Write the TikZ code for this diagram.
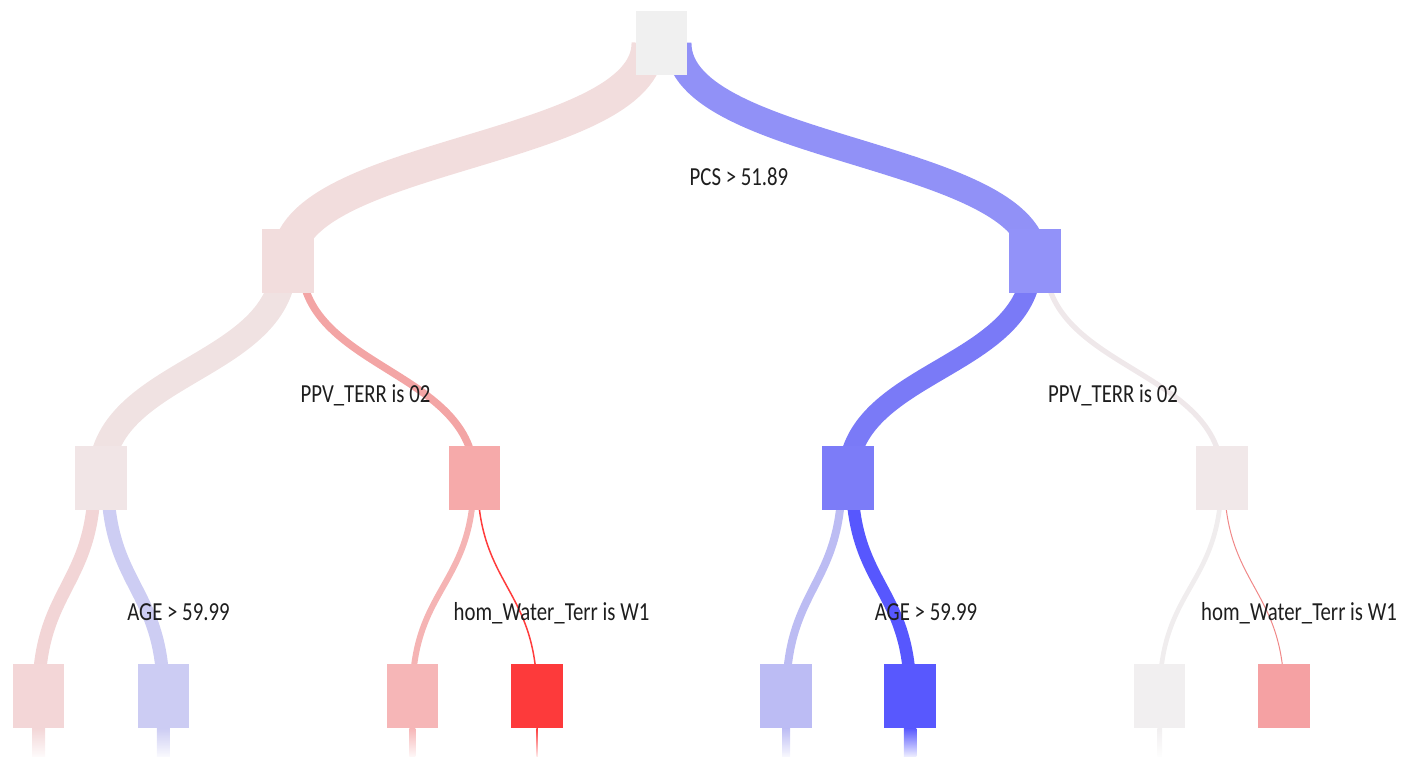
\documentclass[tikz,border=0pt]{standalone}
\usepackage{fontspec}
\newfontfamily\lblfont{Carlito}[FakeStretch=0.80]
\usetikzlibrary{calc,backgrounds}

% node fills
\definecolor{cRoot}{HTML}{F0F0F0}
\definecolor{cLa}{HTML}{F2DDDD}
\definecolor{cLb}{HTML}{9292F9}
\definecolor{cMa}{HTML}{F1E5E6}
\definecolor{cMb}{HTML}{F6AAAA}
\definecolor{cMc}{HTML}{7C7CF8}
\definecolor{cMd}{HTML}{F1E8E9}
\definecolor{cF1}{HTML}{F3D6D7}
\definecolor{cF2}{HTML}{CCCCF3}
\definecolor{cF3}{HTML}{F6B6B7}
\definecolor{cF4}{HTML}{FD3A3B}
\definecolor{cF5}{HTML}{BCBCF4}
\definecolor{cF6}{HTML}{5858FE}
\definecolor{cF7}{HTML}{F1EFF0}
\definecolor{cF8}{HTML}{F5A1A3}
% link strokes
\definecolor{kLa}{HTML}{F2DDDD}
\definecolor{kLb}{HTML}{9191F7}
\definecolor{kMa}{HTML}{F0E2E2}
\definecolor{kMb}{HTML}{F3A5A5}
\definecolor{kMc}{HTML}{7A7AF7}
\definecolor{kMd}{HTML}{EFE8EA}
\definecolor{kF1}{HTML}{F2D5D6}
\definecolor{kF2}{HTML}{CDCDF3}
\definecolor{kF3}{HTML}{F5B4B4}
\definecolor{kF4}{HTML}{FF3C3C}
\definecolor{kF5}{HTML}{BCBCF3}
\definecolor{kF6}{HTML}{5757FE}
\definecolor{kF7}{HTML}{F0EDEE}
\definecolor{kF8}{HTML}{F08888}
\definecolor{txt}{HTML}{1E1E1E}

% sigmoid link from a parent (offset dx) to the centre of a child
\newcommand{\treelink}[5]{%
  \draw[line width=#4pt, draw=#5]
    ($(#1.center)+(#2,0)$) .. controls ($(#1.center)+(#2,109)$)
    and ($(#3.center)+(0,-109)$) .. (#3.center);}
% fading stub below a leaf
\newcommand{\leafstub}[3]{%
  \shade[top color=#3, bottom color=#3!8!white]
    ($(#1.south)+(-#2/2,0)$) rectangle ($(#1.south)+(#2/2,29)$);}

\begin{document}
\begin{tikzpicture}[x=1pt, y=-1pt,
  box/.style={minimum width=51.5pt, minimum height=64.5pt, inner sep=0pt, draw=none, fill=#1},
  lbl/.style={font=\lblfont\fontsize{26}{30}\selectfont, text=txt, anchor=base, inner sep=0pt}]
\useasboundingbox (0,0) rectangle (1403,757);

% tree nodes
\node[box=cRoot] (root) at (661.5,43.2) {};
\node[box=cLa] (la) at (288,261) {};
\node[box=cLb] (lb) at (1035,261) {};
\node[box=cMa] (ma) at (101,478) {};
\node[box=cMb] (mb) at (474.5,478) {};
\node[box=cMc] (mc) at (848,478) {};
\node[box=cMd] (md) at (1222,478) {};
\node[box=cF1] (f1) at (38.7,695.8) {};
\node[box=cF2] (f2) at (163.3,695.8) {};
\node[box=cF3] (f3) at (412.3,695.8) {};
\node[box=cF4] (f4) at (537,695.8) {};
\node[box=cF5] (f5) at (786.2,695.8) {};
\node[box=cF6] (f6) at (910.2,695.8) {};
\node[box=cF7] (f7) at (1159.7,695.8) {};
\node[box=cF8] (f8) at (1284.2,695.8) {};

% links, widths proportional to samples
\begin{scope}[on background layer]
\treelink{root}{-13.2}{la}{33.5}{kLa}
\treelink{root}{16.75}{lb}{26.4}{kLb}
\treelink{la}{-3.75}{ma}{26}{kMa}
\treelink{la}{13}{mb}{7.5}{kMb}
\treelink{lb}{-2.95}{mc}{20.5}{kMc}
\treelink{lb}{10.25}{md}{5.2}{kMd}
\treelink{ma}{-6.5}{f1}{13}{kF1}
\treelink{ma}{6.5}{f2}{13}{kF2}
\treelink{mb}{-0.75}{f3}{6}{kF3}
\treelink{mb}{3}{f4}{1.5}{kF4}
\treelink{mc}{-6.25}{f5}{8}{kF5}
\treelink{mc}{4}{f6}{12.5}{kF6}
\treelink{md}{-0.6}{f7}{4.7}{kF7}
\treelink{md}{2.35}{f8}{1.0}{kF8}
\leafstub{f1}{13}{cF1}
\leafstub{f2}{13}{cF2}
\leafstub{f3}{6}{cF3}
\leafstub{f4}{1.5}{cF4}
\leafstub{f5}{8}{cF5}
\leafstub{f6}{12.5}{cF6}
\leafstub{f7}{4.7}{cF7}
\end{scope}

% split labels
\node[lbl] (tRoot) at ($(root.center)+(77.5,142)$) {PCS > 51.89};
\node[lbl] (tLa) at ($(la.center)+(77.5,141)$) {PPV\_TERR is 02};
\node[lbl] (tLb) at ($(lb.center)+(78,141)$) {PPV\_TERR is 02};
\node[lbl] (tMa) at ($(ma.center)+(77.5,142)$) {AGE > 59.99};
\node[lbl] (tMb) at ($(mb.center)+(77,142)$) {hom\_Water\_Terr is W1};
\node[lbl] (tMc) at ($(mc.center)+(78,142)$) {AGE > 59.99};
\node[lbl] (tMd) at ($(md.center)+(77,142)$) {hom\_Water\_Terr is W1};
\end{tikzpicture}
\end{document}
